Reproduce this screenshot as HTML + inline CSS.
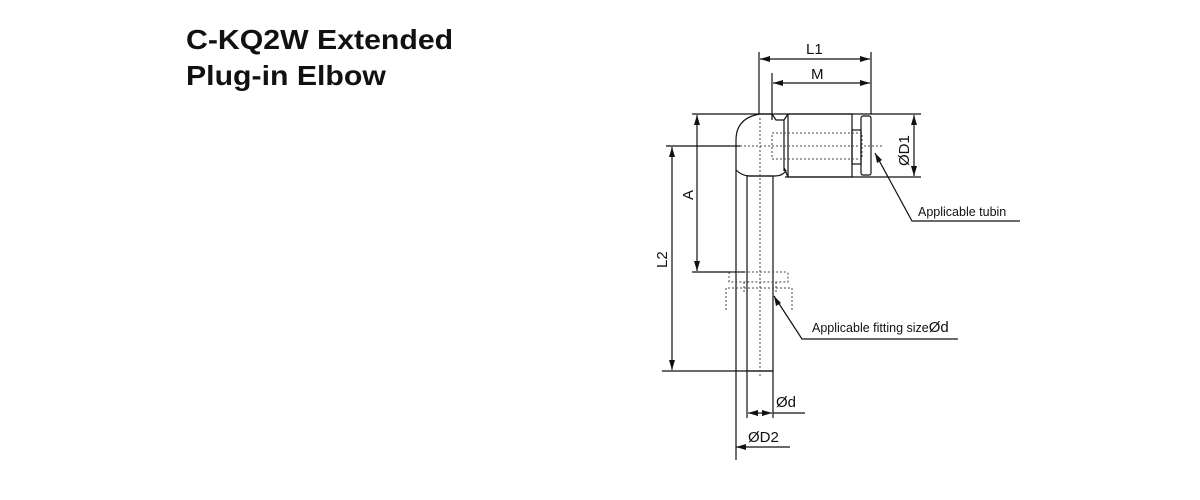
<!DOCTYPE html>
<html><head><style>
html,body{margin:0;padding:0;background:#fff;width:1200px;height:500px;overflow:hidden}
.t{position:absolute;left:186px;font:bold 28px "Liberation Sans",sans-serif;color:#111;line-height:1;transform:scaleX(1.08);transform-origin:0 0;white-space:nowrap}
</style></head><body>
<div class="t" style="top:26px">C-KQ2W Extended</div>
<div class="t" style="top:62px">Plug-in Elbow</div>
<svg width="1200" height="500" style="position:absolute;left:0;top:0" font-family="Liberation Sans, sans-serif">
<defs>
<marker id="a" viewBox="0 0 10 6" refX="10" refY="3" markerWidth="10" markerHeight="6" orient="auto-start-reverse" markerUnits="userSpaceOnUse"><path d="M0,0L10,3L0,6z" fill="#111"/></marker>
</defs>
<g stroke="#111" stroke-width="1.2" fill="none">
<line x1="759" y1="52" x2="759" y2="114"/>
<line x1="871" y1="52" x2="871" y2="114"/>
<line x1="772" y1="73" x2="772" y2="120"/>
<line x1="760" y1="59" x2="870" y2="59" marker-start="url(#a)" marker-end="url(#a)"/>
<line x1="773" y1="83" x2="870" y2="83" marker-start="url(#a)" marker-end="url(#a)"/>
<line x1="692" y1="114" x2="921" y2="114"/>
<line x1="785" y1="177" x2="921" y2="177"/>
<line x1="914" y1="115" x2="914" y2="176" marker-start="url(#a)" marker-end="url(#a)"/>
<line x1="666" y1="146" x2="740" y2="146"/>
<line x1="697" y1="115" x2="697" y2="271" marker-start="url(#a)" marker-end="url(#a)"/>
<line x1="672" y1="147" x2="672" y2="370" marker-start="url(#a)" marker-end="url(#a)"/>
<line x1="692" y1="272" x2="745" y2="272"/>
<line x1="662" y1="371" x2="773" y2="371"/>
<path d="M736,170 L736,140 Q736,118 760,114 L772,114 L776,120 L784,120 L788,114"/>
<path d="M736,170 Q742,176 750,176 L775,176 Q782,176 786,171 L784,168 L788,177"/>
<line x1="784" y1="120" x2="784" y2="171"/>
<rect x="788" y="114" width="64" height="63"/>
<rect x="852" y="130" width="9" height="34"/>
<rect x="861" y="116" width="10" height="59" rx="2"/>
<line x1="736" y1="170" x2="736" y2="460"/>
<rect x="747" y="176" width="26" height="195"/>
<line x1="747" y1="371" x2="747" y2="418"/>
<line x1="773" y1="371" x2="773" y2="418"/>
<line x1="736" y1="447" x2="790" y2="447" marker-start="url(#a)"/>
<line x1="760" y1="413" x2="748" y2="413" marker-end="url(#a)"/>
<line x1="760" y1="413" x2="772" y2="413" marker-end="url(#a)"/>
<line x1="773" y1="413" x2="805" y2="413"/>
<polyline points="875,153 912,221 1020,221"/>
<polyline points="774,296 802,339 958,339"/>
</g>
<path d="M875,153 l2,10 l5,-3z" fill="#111"/>
<path d="M774,296 l2,10 l5,-3z" fill="#111"/>
<g stroke="#444" stroke-width="1" fill="none" stroke-dasharray="2,2">
<line x1="740" y1="146" x2="882" y2="146"/>
<line x1="760" y1="118" x2="760" y2="378"/>
<rect x="772" y="133" width="90" height="26"/>
<path d="M729,282 L729,274 Q729,272 731,272 L786,272 Q788,272 788,274 L788,282 Z"/>
<path d="M726,310 L726,288 L792,288 L792,310"/>
<line x1="744" y1="282" x2="744" y2="293"/>
<line x1="776" y1="282" x2="776" y2="293"/>
</g>
<g fill="#111" font-size="15">
<text x="806" y="54">L1</text>
<text x="811" y="79">M</text>
<text x="909" y="166" transform="rotate(-90 909 166)">ØD1</text>
<text x="693" y="200" transform="rotate(-90 693 200)">A</text>
<text x="667" y="268" transform="rotate(-90 667 268)">L2</text>
<text x="776" y="407">Ød</text>
<text x="748" y="442">ØD2</text>
</g>
<g fill="#111" font-size="12.5">
<text x="918" y="216">Applicable tubin</text>
<text x="812" y="332">Applicable fitting size<tspan font-size="15">Ød</tspan></text>
</g>
</svg>
</body></html>
